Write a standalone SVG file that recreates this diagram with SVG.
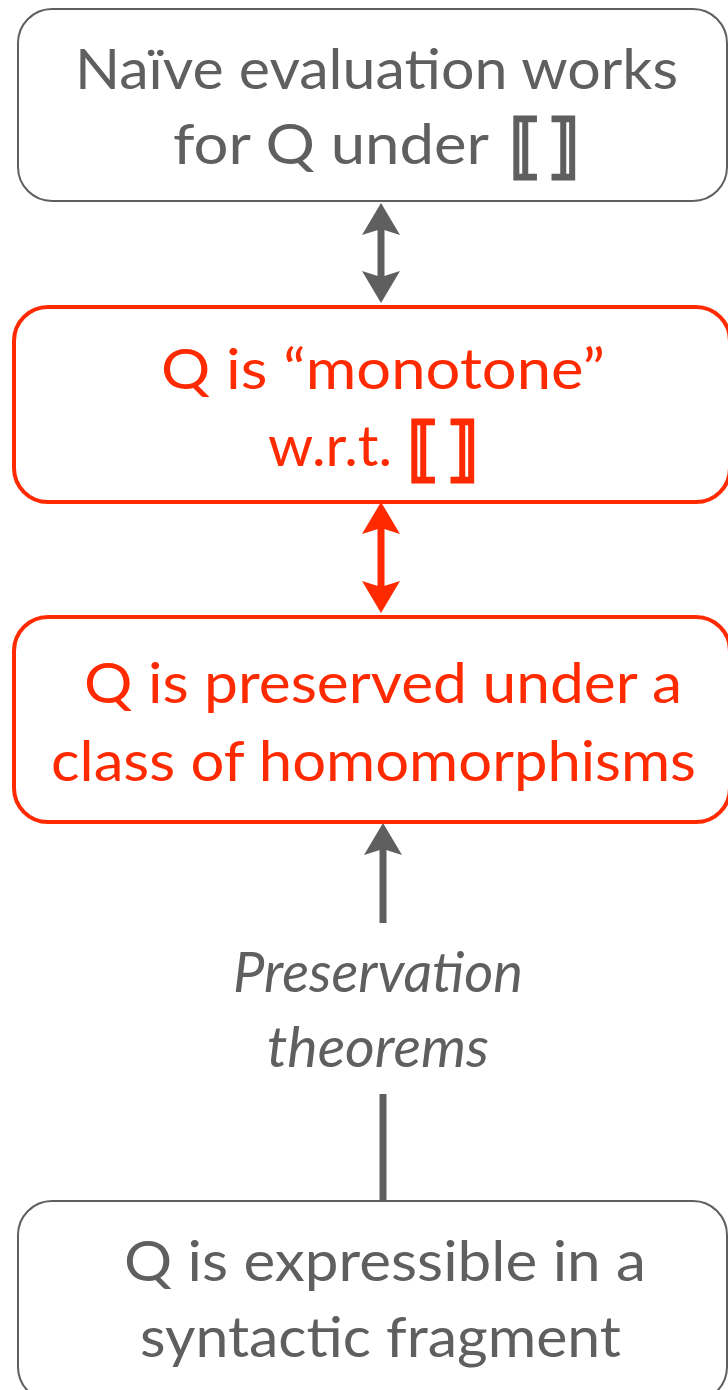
<svg xmlns="http://www.w3.org/2000/svg" width="728" height="1390" viewBox="0 0 728 1390">
  <style>
    .box-gray { fill: #ffffff; stroke: #5f5f5f; stroke-width: 2; }
    .box-red { fill: #ffffff; stroke: #ff2a00; stroke-width: 4; }
    .t { font-family: Lato, "Open Sans", "DejaVu Sans", sans-serif; font-size: 56px; }
    .br { font-family: "DejaVu Sans", sans-serif; font-weight: bold; font-size: 70px; stroke-width: 2.5; stroke-linejoin: miter; }
    .t-gray { fill: #5f5f5f; }
    .t-red { fill: #ff2a00; }
    .br.t-gray { stroke: #5f5f5f; }
    .br.t-red { stroke: #ff2a00; }
    .t-it { font-style: italic; }
    .c-gray { stroke: #5f5f5f; stroke-width: 7; fill: none; }
    .c-red { stroke: #ff2a00; stroke-width: 7; fill: none; }
  </style>
  <defs>
    <marker id="head-gray" markerUnits="userSpaceOnUse" viewBox="-7 -20 34 40" refX="0" refY="0" markerWidth="34" markerHeight="40" orient="auto-start-reverse">
      <path d="M26,0 L-6,-19 L0,0 L-6,19 Z" fill="#5f5f5f"/>
    </marker>
    <marker id="head-red" markerUnits="userSpaceOnUse" viewBox="-7 -20 34 40" refX="0" refY="0" markerWidth="34" markerHeight="40" orient="auto-start-reverse">
      <path d="M26,0 L-6,-19 L0,0 L-6,19 Z" fill="#ff2a00"/>
    </marker>
  </defs>

  <g id="connectors">
    <line class="c-gray" x1="381" y1="229" x2="381" y2="277" marker-start="url(#head-gray)" marker-end="url(#head-gray)"/>
    <line class="c-red" x1="381" y1="528" x2="381" y2="587" marker-start="url(#head-red)" marker-end="url(#head-red)"/>
    <line class="c-gray" x1="383" y1="923" x2="383" y2="849" marker-end="url(#head-gray)"/>
    <text class="t t-gray t-it" x="233" y="992" textLength="290" lengthAdjust="spacingAndGlyphs">Preservation</text>
    <text class="t t-gray t-it" x="267" y="1067" textLength="222" lengthAdjust="spacingAndGlyphs">theorems</text>
    <line class="c-gray" x1="383" y1="1094" x2="383" y2="1201"/>
  </g>

  <g id="naive-evaluation">
    <rect class="box-gray" x="18" y="9" width="709" height="192" rx="34" ry="34"/>
    <text class="t t-gray" x="75" y="89" textLength="603" lengthAdjust="spacingAndGlyphs">Naïve evaluation works</text>
    <text class="t t-gray" x="173" y="164" textLength="316" lengthAdjust="spacingAndGlyphs">for Q under</text>
    <text class="br t-gray" x="509" y="170" textLength="31" lengthAdjust="spacingAndGlyphs">⟦</text>
    <text class="br t-gray" x="547" y="170" textLength="31" lengthAdjust="spacingAndGlyphs">⟧</text>
  </g>

  <g id="monotone">
    <rect class="box-red" x="14" y="307" width="716" height="195" rx="34" ry="34"/>
    <text class="t t-red" x="161" y="389" textLength="444" lengthAdjust="spacingAndGlyphs">Q is “monotone”</text>
    <text class="t t-red" x="268" y="466" textLength="124" lengthAdjust="spacingAndGlyphs">w.r.t.</text>
    <text class="br t-red" x="407" y="473" textLength="31" lengthAdjust="spacingAndGlyphs">⟦</text>
    <text class="br t-red" x="446" y="473" textLength="31" lengthAdjust="spacingAndGlyphs">⟧</text>
  </g>

  <g id="preserved">
    <rect class="box-red" x="14" y="617" width="716" height="205" rx="34" ry="34"/>
    <text class="t t-red" x="84" y="703" textLength="598" lengthAdjust="spacingAndGlyphs">Q is preserved under a</text>
    <text class="t t-red" x="51" y="781" textLength="645" lengthAdjust="spacingAndGlyphs">class of homomorphisms</text>
  </g>

  <g id="expressible">
    <rect class="box-gray" x="18" y="1201" width="709" height="200" rx="34" ry="34"/>
    <text class="t t-gray" x="124" y="1281" textLength="522" lengthAdjust="spacingAndGlyphs">Q is expressible in a</text>
    <text class="t t-gray" x="140" y="1357" textLength="481" lengthAdjust="spacingAndGlyphs">syntactic fragment</text>
  </g>
</svg>
